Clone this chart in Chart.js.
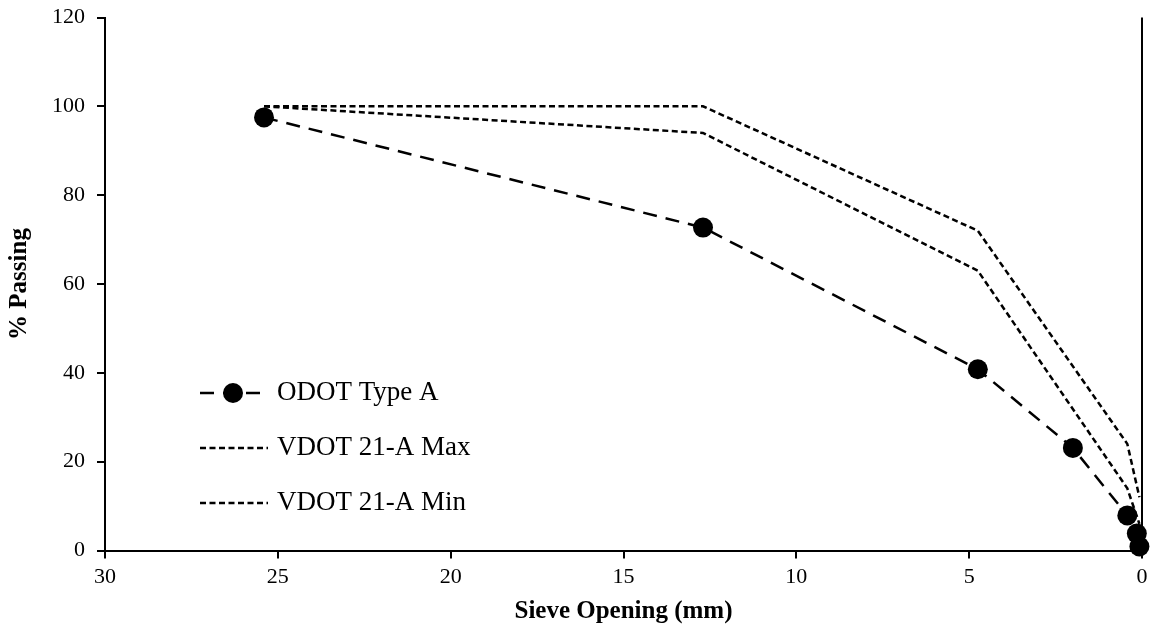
<!DOCTYPE html>
<html>
<head>
<meta charset="utf-8">
<script src="https://cdn.jsdelivr.net/npm/chart.js@4.4.1/dist/chart.umd.min.js"></script>
<style>
  html, body { margin: 0; padding: 0; background: #fff; }
  #wrap { width: 1159px; height: 639px; }
</style>
</head>
<body>
<div id="wrap"><canvas id="chart1"></canvas></div>
<script>
// sieve sizes (mm) and % passing
const sieveOdot = [25.4, 12.7, 4.75, 2.0, 0.425, 0.15, 0.075];
const passOdot = [97.5, 72.7, 40.8, 23.1, 7.9, 3.8, 0.9];
const sieveVdot = [25.4, 12.7, 4.75, 0.425, 0.075];
const vdotMax = [100, 100, 72, 24, 12];
const vdotMin = [100, 94, 63, 14, 6];
const labels = ["ODOT Type A", "VDOT 21-A Max", "VDOT 21-A Min"];
const xTicks = [0, 5, 10, 15, 20, 25, 30];
const yTicks = [0, 20, 40, 60, 80, 100, 120];

const serif = "'Liberation Serif', 'Times New Roman', serif";

function pts(xs, ys) {
  return xs.map((x, i) => ({ x: x, y: ys[i] }));
}

// right frame line (drawn under the points)
const rightFrame = {
  id: "rightFrame",
  beforeDatasetsDraw(chart) {
    const { ctx, chartArea } = chart;
    ctx.save();
    ctx.strokeStyle = "#000";
    ctx.lineWidth = 2;
    ctx.beginPath();
    ctx.moveTo(chartArea.right, chartArea.top);
    ctx.lineTo(chartArea.right, chartArea.bottom);
    ctx.stroke();
    ctx.restore();
  },
};

// legend inside the plot, lower left
const innerLegend = {
  id: "innerLegend",
  afterDraw(chart) {
    const ctx = chart.ctx;
    const rows = [393, 448, 503];
    ctx.save();
    chart.data.datasets.forEach((ds, i) => {
      const y = rows[i];
      ctx.strokeStyle = ds.borderColor;
      ctx.lineWidth = ds.borderWidth;
      ctx.setLineDash(ds.borderDash);
      ctx.beginPath();
      ctx.moveTo(200, y);
      ctx.lineTo(i === 0 ? 260 : 268, y);
      ctx.stroke();
      ctx.setLineDash([]);
      if (ds.pointRadius > 0) {
        ctx.fillStyle = ds.pointBackgroundColor;
        ctx.beginPath();
        ctx.arc(233, y, ds.pointRadius, 0, Math.PI * 2);
        ctx.fill();
      }
      ctx.fillStyle = "#000";
      ctx.font = "27px " + serif;
      ctx.textBaseline = "middle";
      ctx.textAlign = "left";
      ctx.fillText(ds.label, 277, y);
    });
    ctx.restore();
  },
};

function noPad(s) {
  s.paddingTop = 0;
  s.paddingBottom = 0;
  s.paddingLeft = 0;
  s.paddingRight = 0;
}

document.addEventListener("DOMContentLoaded", () => {
  const chart1 = new Chart(document.getElementById("chart1"), {
    type: "scatter",
    data: {
      datasets: [
        {
          label: labels[0],
          data: pts(sieveOdot, passOdot),
          showLine: true,
          borderColor: "#000",
          borderWidth: 2.5,
          borderDash: [14, 9],
          pointRadius: 10,
          pointBackgroundColor: "#000",
          pointBorderWidth: 0,
          clip: false,
        },
        {
          label: labels[1],
          data: pts(sieveVdot, vdotMax),
          showLine: true,
          borderColor: "#000",
          borderWidth: 2.5,
          borderDash: [6, 3.5],
          pointRadius: 0,
          clip: false,
        },
        {
          label: labels[2],
          data: pts(sieveVdot, vdotMin),
          showLine: true,
          borderColor: "#000",
          borderWidth: 2.5,
          borderDash: [6, 3.5],
          pointRadius: 0,
          clip: false,
        },
      ],
    },
    options: {
      responsive: true,
      maintainAspectRatio: false,
      animation: false,
      layout: { padding: { top: 17.5, right: 17, bottom: 0, left: 0 } },
      plugins: {
        legend: { display: false },
        tooltip: { enabled: false },
      },
      scales: {
        x: {
          type: "linear",
          reverse: true,
          min: 0,
          max: 30,
          afterFit: (s) => { s.height = 88.5; noPad(s); },
          afterBuildTicks: (s) => { s.ticks = xTicks.map((v) => ({ value: v })); },
          grid: { drawOnChartArea: false, color: "#000", tickLength: 8, lineWidth: 2 },
          border: { color: "#000", width: 2 },
          ticks: { color: "#000", padding: 6, font: { family: serif, size: 22 } },
          title: {
            display: true,
            text: "Sieve Opening (mm)",
            color: "#000",
            font: { family: serif, size: 25, weight: "bold" },
            padding: { top: 0, bottom: 12 },
          },
        },
        y: {
          min: 0,
          max: 120,
          afterFit: (s) => { s.width = 105; noPad(s); },
          afterBuildTicks: (s) => { s.ticks = yTicks.map((v) => ({ value: v })); },
          grid: { drawOnChartArea: false, color: "#000", tickLength: 8, lineWidth: 2 },
          border: { color: "#000", width: 2 },
          ticks: { color: "#000", padding: 12, font: { family: serif, size: 22 } },
          title: {
            display: true,
            text: "% Passing",
            color: "#000",
            font: { family: serif, size: 25, weight: "bold" },
            padding: { top: 5, bottom: 0 },
          },
        },
      },
    },
    plugins: [rightFrame, innerLegend],
  });
});
</script>
</body>
</html>
